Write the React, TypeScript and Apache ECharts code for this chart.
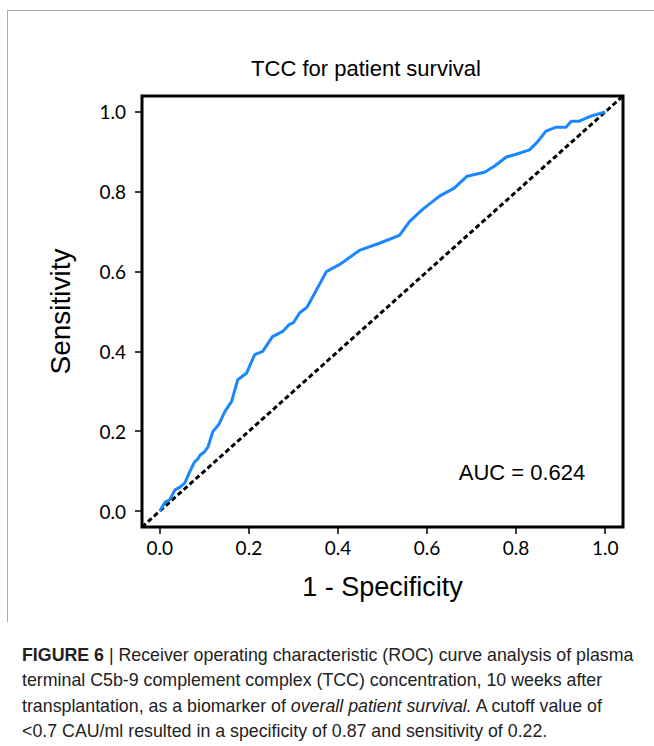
import React, { useEffect, useRef } from "react";
import * as echarts from "echarts";

const chartTitle = "TCC for patient survival";
const xAxisTitle = "1 - Specificity";
const yAxisTitle = "Sensitivity";
const aucText = "AUC = 0.624";
const tickValues = [0, 0.2, 0.4, 0.6, 0.8, 1.0];
const diagonalX = [-0.04, 1.04];
const diagonalY = [-0.04, 1.04];

const rocFpr = [0, 0.011, 0.022, 0.034, 0.045, 0.056, 0.067, 0.078, 0.085, 0.09,
  0.10, 0.108, 0.119, 0.132, 0.146, 0.161, 0.175, 0.195, 0.213, 0.231,
  0.253, 0.276, 0.29, 0.30, 0.314, 0.33, 0.34, 0.374, 0.404, 0.448,
  0.493, 0.538, 0.561, 0.59, 0.628, 0.661, 0.69, 0.729, 0.751, 0.778,
  0.80, 0.83, 0.848, 0.867, 0.89, 0.912, 0.924, 0.942, 0.969, 1.0];
const rocTpr = [0, 0.021, 0.028, 0.053, 0.06, 0.07, 0.098, 0.123, 0.13, 0.14,
  0.148, 0.16, 0.199, 0.216, 0.249, 0.274, 0.329, 0.346, 0.392, 0.40,
  0.437, 0.45, 0.467, 0.472, 0.497, 0.51, 0.53, 0.60, 0.618, 0.653,
  0.671, 0.691, 0.726, 0.756, 0.789, 0.809, 0.839, 0.849, 0.864, 0.887,
  0.894, 0.905, 0.925, 0.952, 0.962, 0.962, 0.977, 0.977, 0.99, 1.0];

const captionLines = [
  "{b|FIGURE 6} | Receiver operating characteristic (ROC) curve analysis of plasma",
  "terminal C5b-9 complement complex (TCC) concentration, 10 weeks after",
  "transplantation, as a biomarker of {i|overall patient survival.} A cutoff value of",
  "<0.7 CAU/ml resulted in a specificity of 0.87 and sensitivity of 0.22.",
];

export default function App() {
  const ref = useRef<HTMLDivElement>(null);
  useEffect(() => {
    if (!ref.current) return;
    const chart = echarts.init(ref.current, null, { renderer: "svg" });
    const axisFont = "Lato";
    const sans = "Liberation Sans";
    const capSize = 17.8;
    chart.setOption({
      animation: false,
      backgroundColor: "#fff",
      grid: { left: 142, top: 96, width: 481, height: 431, show: true, borderColor: "#000", borderWidth: 3, backgroundColor: "transparent" },
      xAxis: {
        type: "value", min: -0.04, max: 1.04,
        name: xAxisTitle, nameLocation: "middle", nameGap: 46,
        nameTextStyle: { fontFamily: sans, fontSize: 27, color: "#000" },
        axisLine: { show: false, onZero: false },
        splitLine: { show: false },
        axisTick: { show: true, inside: false, length: 7, lineStyle: { color: "#000", width: 1.5 }, customValues: tickValues },
        axisLabel: { customValues: tickValues, formatter: (v: number) => v.toFixed(1), fontFamily: axisFont, fontSize: 19, color: "#000", margin: 11 },
      },
      yAxis: {
        type: "value", min: -0.04, max: 1.04,
        name: yAxisTitle, nameLocation: "middle", nameGap: 68,
        nameTextStyle: { fontFamily: sans, fontSize: 28, color: "#000" },
        axisLine: { show: false, onZero: false },
        splitLine: { show: false },
        axisTick: { show: true, inside: false, length: 7, lineStyle: { color: "#000", width: 1.5 }, customValues: tickValues },
        axisLabel: { customValues: tickValues, formatter: (v: number) => v.toFixed(1), fontFamily: axisFont, fontSize: 19, color: "#000", margin: 16 },
      },
      series: [
        {
          type: "line",
          data: diagonalX.map((x, i) => [x, diagonalY[i]]),
          showSymbol: false,
          lineStyle: { color: "#000", width: 3, type: [5, 3] },
          z: 2,
        },
        {
          type: "line",
          data: rocFpr.map((x, i) => [x, rocTpr[i]]),
          showSymbol: false,
          lineStyle: { color: "#1a87ff", width: 3 },
          z: 3,
        },
      ],
      graphic: [
        { type: "line", shape: { x1: 7, y1: 10.5, x2: 654, y2: 10.5 }, style: { stroke: "#aaa", lineWidth: 1 } },
        { type: "line", shape: { x1: 7.5, y1: 10, x2: 7.5, y2: 622 }, style: { stroke: "#aaa", lineWidth: 1 } },
        { type: "text", x: 366, y: 68, style: { text: chartTitle, fontFamily: sans, fontSize: 22, fill: "#000", align: "center", verticalAlign: "middle" } },
        { type: "text", x: 522, y: 472, style: { text: aucText, fontFamily: sans, fontSize: 22, fill: "#000", align: "center", verticalAlign: "middle" } },
        {
          type: "text", x: 22, y: 642,
          style: {
            text: captionLines.join("\n"),
            fontFamily: sans, fontSize: capSize, fill: "#222", lineHeight: 25.5,
            rich: {
              b: { fontFamily: sans, fontSize: capSize, fontWeight: "bold", fill: "#222", lineHeight: 25.5 },
              i: { fontFamily: sans, fontSize: capSize, fontStyle: "italic", fill: "#222", lineHeight: 25.5 },
            },
          },
        },
      ],
    });
    return () => chart.dispose();
  }, []);
  return <div ref={ref} style={{ position: "absolute", left: 0, top: 0, width: 654, height: 746 }} />;
}
